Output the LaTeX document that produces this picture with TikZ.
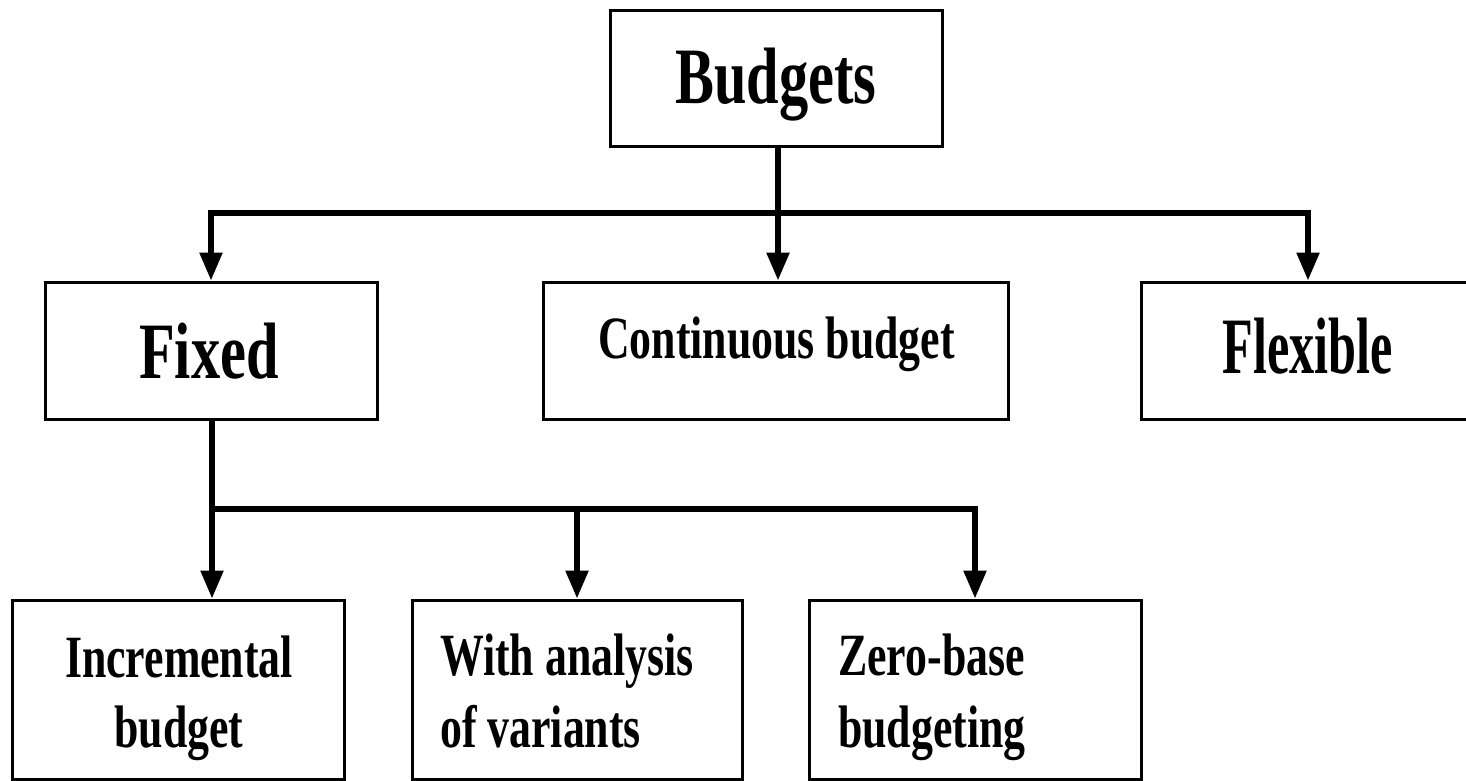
\documentclass[tikz,border=0pt]{standalone}
\usepackage{fontspec}
\usepackage{graphicx}
\newfontfamily\tnr{Liberation Serif}[FakeStretch=0.73]
\usetikzlibrary{arrows.meta}
\begin{document}
\begin{tikzpicture}[x=1pt,y=-1pt,
 box/.style={draw,line width=3pt,inner sep=0pt,anchor=center},
 conn/.style={line width=5.5pt},
 arr/.style={conn,-{Triangle[width=22pt,length=28pt]}},
 big/.style={inner sep=0pt,anchor=base,font=\tnr\bfseries\fontsize{80}{80}\selectfont},
 mid/.style={inner sep=0pt,anchor=base,font=\tnr\bfseries\fontsize{60}{60}\selectfont}]
\clip (0,0) rectangle (1466,780);
\fill[white] (0,0) rectangle (1466,780);
% boxes
\node[box,minimum width=332pt,minimum height=136pt] (budgets) at (776,78) {};
\node[box,minimum width=332pt,minimum height=137pt] (fixed) at (211,350.5) {};
\node[box,minimum width=465pt,minimum height=137pt] (cont) at (775.5,350.5) {};
\node[box,minimum width=334pt,minimum height=137pt] (flex) at (1308,350.5) {};
\node[box,minimum width=332pt,minimum height=179pt] (inc) at (178,689.5) {};
\node[box,minimum width=330pt,minimum height=179pt] (with) at (577,689.5) {};
\node[box,minimum width=332pt,minimum height=179pt] (zero) at (975,689.5) {};
% texts
\node[big] (tbudgets) at (776,103) {Budgets};
\node[big] (tfixed) at (209,378) {Fixed};
\node[mid] (tcont) at (776.5,358) {Continuous budget};
\node[big] (tflex) at (1308,373) {\scalebox{0.86}[1]{Flexible}};
\node[mid] (tinc1) at (179,677) {Incremental};
\node[mid] (tinc2) at (179,747) {budget};
\node[mid,anchor=base west] (twith1) at (440,675) {With analysis};
\node[mid,anchor=base west] (twith2) at (440,747) {of variants};
\node[mid,anchor=base west] (tzero1) at (838,675) {Zero-base};
\node[mid,anchor=base west] (tzero2) at (838,747) {budgeting};
% connectors
\coordinate (j1) at (778,213);
\coordinate (j2) at (212,509);
\draw[conn] (budgets.south -| j1) -- (j1);
\draw[arr] (j1) -| (fixed.north);
\draw[arr] (j1) -- (cont.north -| j1);
\draw[arr] (j1) -| (flex.north);
\draw[conn] (fixed.south -| j2) -- (j2);
\draw[arr] (j2) -- (inc.north -| j2);
\draw[arr] (j2) -| (with.north);
\draw[arr] (j2) -| (zero.north);
\end{tikzpicture}
\end{document}
